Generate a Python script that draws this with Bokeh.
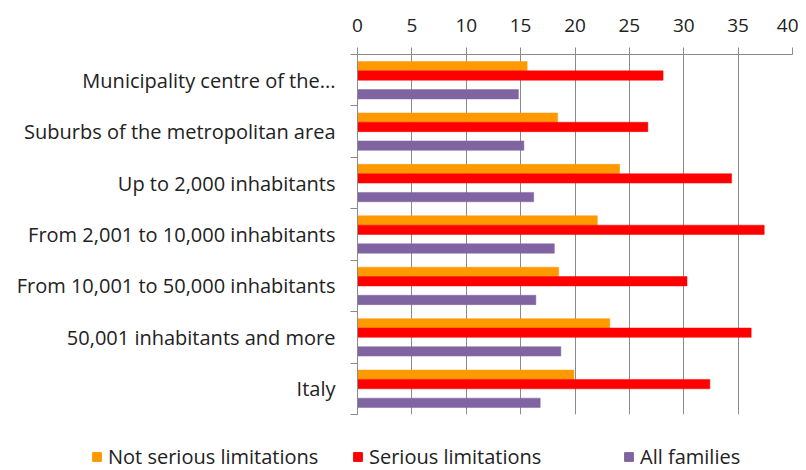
from bokeh.plotting import figure
from bokeh.models import (Range1d, FixedTicker, Legend, LegendItem,
                          ColumnDataSource)
from bokeh.embed import file_html
from bokeh.resources import INLINE

categories = [
    "Municipality centre of the...",
    "Suburbs of the metropolitan area",
    "Up to 2,000 inhabitants",
    "From 2,001 to 10,000 inhabitants",
    "From 10,001 to 50,000 inhabitants",
    "50,001 inhabitants and more",
    "Italy",
]
not_serious = [15.6, 18.4, 24.1, 22.05, 18.5, 23.2, 19.9]
serious = [28.1, 26.7, 34.4, 37.4, 30.3, 36.2, 32.4]
all_families = [14.8, 15.3, 16.2, 18.1, 16.4, 18.7, 16.8]
series_names = ["Not serious limitations", "Serious limitations", "All families"]
series_colors = ["#FF9900", "#FF0000", "#8064A2"]
x_ticks = [0, 5, 10, 15, 20, 25, 30, 35, 40]

# layout / style settings
n = len(categories)
centers = [n - 1 - i for i in range(n)]
boundaries = [b - 0.5 for b in range(n + 1)]
slot = 1 / 5.5                      # 4 bar slots + 150% gap
slot_index = [0, 1, 3]              # third slot is an empty series in the original
series_values = [not_serious, serious, all_families]
legend_x = [91, 352, 623]

font = "Open Sans"
grey = "#8a8a8a"
text_color = "#222222"

p = figure(width=798, height=430, output_backend="svg", toolbar_location=None,
           x_range=Range1d(0, 40), y_range=Range1d(-0.5, n - 0.5),
           x_axis_location="above", min_border_left=357, min_border_right=6,
           min_border_top=54, min_border_bottom=16)
p.outline_line_color = None
p.background_fill_color = "white"
p.border_fill_color = "white"

xa = p.xaxis[0]
xa.ticker = FixedTicker(ticks=x_ticks)
xa.axis_line_color = grey
xa.major_tick_line_color = grey
xa.major_tick_out = 7
xa.major_tick_in = 0
xa.minor_tick_line_color = None
xa.major_label_text_font = font
xa.major_label_text_font_size = "19px"
xa.major_label_text_color = text_color
xa.major_label_standoff = 16

ya = p.yaxis[0]
ya.ticker = FixedTicker(ticks=centers, minor_ticks=boundaries)
ya.axis_line_color = grey
ya.major_tick_line_color = None
ya.major_tick_out = 0
ya.major_tick_in = 0
ya.minor_tick_line_color = grey
ya.minor_tick_out = 7
ya.minor_tick_in = 0
ya.major_label_overrides = {c: name for c, name in zip(centers, categories)}
ya.major_label_text_font = font
ya.major_label_text_font_size = "20px"
ya.major_label_text_color = text_color
ya.major_label_standoff = 15

p.xgrid.ticker = FixedTicker(ticks=x_ticks)
p.xgrid.grid_line_color = grey
p.ygrid.grid_line_color = None

for color, vals, k in zip(series_colors, series_values, slot_index):
    off = (1.5 - k) * slot
    src = ColumnDataSource(dict(y=[c + off for c in centers], right=vals))
    p.hbar(y="y", right="right", left=0, height=slot, source=src,
           fill_color=color, line_color=color, line_width=0.5)

# legend strip (separate root, so its frame is not aligned with the chart)
lg = figure(width=798, height=40, output_backend="svg", toolbar_location=None,
            x_range=Range1d(0, 1), y_range=Range1d(0, 1),
            x_axis_location=None, y_axis_location=None,
            min_border_left=0, min_border_right=0, min_border_top=0,
            min_border_bottom=0)
lg.grid.visible = False
lg.outline_line_color = None
for name, color, lx in zip(series_names, series_colors, legend_x):
    # proxy renderer kept far outside the visible range; only used as legend swatch
    src = ColumnDataSource(dict(y=[-50], left=[-50], right=[-49]))
    r = lg.hbar(y="y", left="left", right="right", height=1, source=src,
                fill_color=color, line_color=color)
    leg = Legend(items=[LegendItem(label=name, renderers=[r])],
                 location=(lx, 0), label_standoff=6,
                 glyph_width=11, glyph_height=11,
                 padding=0, margin=0, border_line_color=None,
                 background_fill_alpha=0,
                 label_text_font=font, label_text_font_size="20px",
                 label_text_color=text_color, label_height=20)
    lg.add_layout(leg, "center")

open("out.html", "w").write(file_html([p, lg], INLINE))
